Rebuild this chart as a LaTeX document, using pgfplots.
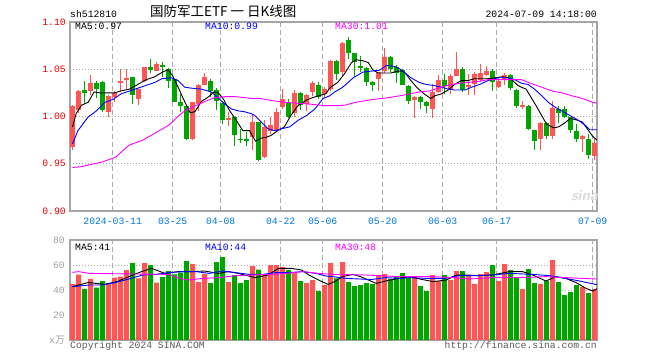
\documentclass[border=0pt]{standalone}
\usepackage{pgfplots}
\pgfplotsset{compat=1.18}
\usepackage{pgfplotstable}
\usepackage{fontspec}
\setmainfont{Liberation Mono}
\setmonofont{Liberation Mono}
\newfontfamily\cjk{Noto Sans CJK SC}
\newcommand\mono{\fontsize{9.75}{11}\selectfont\ttfamily}
\definecolor{cred}{RGB}{255,85,85}
\definecolor{cgreen}{RGB}{0,165,0}
\definecolor{framegray}{RGB}{165,165,165}
\definecolor{gridgray}{RGB}{170,170,170}
\definecolor{labred}{RGB}{230,0,0}
\definecolor{labblue}{RGB}{0,120,220}
\definecolor{txtgray}{RGB}{90,90,90}
\definecolor{volgray}{RGB}{160,160,160}
\definecolor{mablue}{RGB}{0,0,255}
\definecolor{mamag}{RGB}{255,0,255}

% rising candles (red): index, open, high, low, close, volume (10k)
\pgfplotstableread{
i o h l c v
0 0.968 1.012 0.965 1.0116 44.8
1 1.007 1.028 1.0035 1.0274 52.3
3 1.0267 1.0435 1.0232 1.0351 49.0
6 1.005 1.0225 1.000 1.0218 44.8
7 1.0211 1.0274 1.015 1.0253 49.9
8 1.0351 1.0502 1.0256 1.0379 50.7
9 1.039 1.050 1.029 1.041 56.0
11 1.019 1.0292 1.0127 1.0292 49.3
12 1.0372 1.0526 1.036 1.0526 61.6
14 1.0477 1.058 1.0477 1.0554 45.9
20 0.9766 1.0151 0.9755 1.0151 60.8
21 1.0134 1.034 1.0057 1.0337 46.4
22 1.0337 1.0456 1.0337 1.0421 53.0
26 0.9958 1.0046 0.9899 0.9983 46.4
30 0.9783 1.0029 0.965 0.9941 59.2
32 0.9573 0.9958 0.9562 0.9888 52.0
33 0.9843 1.000 0.982 0.9913 60.0
34 0.986 1.009 0.9843 1.0046 60.0
35 1.0099 1.0291 1.008 1.0186 58.4
37 1.0036 1.028 0.9993 1.0246 54.4
39 1.0134 1.024 1.0057 1.0232 45.6
40 1.0256 1.0372 1.022 1.0355 48.0
42 1.0239 1.031 1.020 1.0291 44.0
43 1.0291 1.060 1.0274 1.059 61.6
45 1.047 1.079 1.042 1.078 62.4
51 1.0397 1.047 1.0274 1.0467 52.0
52 1.0477 1.073 1.046 1.0632 52.8
57 1.0176 1.022 0.9986 1.0211 51.2
60 1.0078 1.0344 0.9986 1.0263 52.0
61 1.0263 1.0442 1.0253 1.0386 47.2
63 1.0281 1.045 1.024 1.0428 48.0
64 1.0432 1.0684 1.043 1.0505 55.2
66 1.0309 1.0449 1.0232 1.0334 52.0
67 1.0344 1.047 1.0232 1.0449 44.8
68 1.0386 1.0554 1.037 1.0456 52.8
69 1.0442 1.0537 1.043 1.0484 54.4
71 1.0309 1.0404 1.030 1.0379 47.2
72 1.0386 1.046 1.0337 1.0442 60.8
75 1.0099 1.0169 1.008 1.0127 40.8
78 0.9762 0.994 0.965 0.993 45.0
80 0.9797 1.0169 0.9762 1.0092 64.0
85 0.9766 0.980 0.9625 0.979 42.4
87 0.958 0.9766 0.9538 0.972 40.8
}\uptable

% falling candles (green)
\pgfplotstableread{
i o h l c v
2 1.0285 1.038 1.014 1.0253 41.0
4 1.0351 1.0372 1.0197 1.0295 41.9
5 1.0365 1.0372 1.0043 1.0064 47.2
10 1.042 1.042 1.0134 1.0232 61.6
13 1.0526 1.0607 1.0456 1.0495 60.0
15 1.054 1.058 1.0414 1.0526 50.4
16 1.0502 1.051 1.030 1.0379 55.2
17 1.0397 1.0397 1.015 1.0158 52.5
18 1.0158 1.024 1.0046 1.0106 53.9
19 1.0106 1.011 0.9748 0.9766 63.2
23 1.0372 1.040 1.0204 1.0274 45.6
24 1.028 1.030 1.0064 1.0162 62.4
25 1.0141 1.016 0.9923 0.9958 66.4
27 0.9993 1.000 0.9688 0.980 52.0
28 0.9762 0.9864 0.972 0.9752 45.6
29 0.9762 0.9836 0.9685 0.9748 48.0
31 0.9937 0.994 0.9527 0.9545 56.3
36 1.0151 1.018 0.998 1.000 56.0
38 1.0253 1.026 1.0064 1.0127 47.2
41 1.0337 1.036 1.019 1.0211 39.2
44 1.059 1.060 1.0386 1.0449 49.3
46 1.0807 1.0842 1.0607 1.0677 46.4
47 1.0667 1.067 1.042 1.0572 43.2
48 1.0537 1.0642 1.0467 1.0509 44.0
49 1.0509 1.052 1.0327 1.0362 45.6
50 1.0362 1.038 1.0267 1.0333 45.0
53 1.0632 1.064 1.0467 1.0502 48.8
54 1.052 1.054 1.0355 1.0456 50.4
55 1.0491 1.050 1.033 1.0337 53.6
56 1.0327 1.033 1.0134 1.0162 49.6
58 1.0211 1.022 1.0078 1.0151 43.2
59 1.0151 1.016 1.0036 1.0106 39.2
62 1.0386 1.045 1.0239 1.0327 52.0
65 1.0505 1.0526 1.0256 1.0281 55.2
70 1.0484 1.050 1.0274 1.0362 60.0
73 1.0442 1.045 1.028 1.0298 56.0
74 1.0281 1.029 1.0092 1.0106 49.6
76 1.0116 1.012 0.9853 0.987 56.8
77 0.9853 0.986 0.965 0.9741 45.6
79 0.993 0.994 0.9762 0.9797 47.2
81 1.0081 1.0106 0.993 1.0036 46.4
82 1.0081 1.0106 0.998 1.000 36.0
83 0.9993 1.000 0.9825 0.986 38.4
84 0.9843 0.9923 0.973 0.9766 44.0
86 0.9766 0.9818 0.9548 0.959 37.6
}\downtable

\pgfplotsset{kbase/.style={
  scale only axis, width=527pt,
  xmin=-0.4167, xmax=87.4167,
  axis line style={draw=framegray, line width=1.5pt},
  major tick length=0pt,
  tick style={draw=none},
  grid=major,
  x grid style={draw=gridgray, line width=1.2pt, dash pattern=on 5pt off 3pt},
  y grid style={draw=gridgray, line width=1pt, dash pattern=on 1pt off 2pt},
  xtick={6.7,16.7,24.7,34.7,41.7,51.7,61.7,70.7,86.7},
  tick label style={font=\mono, inner sep=0pt},
}}

\begin{document}
\begin{tikzpicture}[x=1pt,y=1pt]
\fill[white] (0,0) rectangle (660,360);

% ---------------- price panel ----------------
\begin{axis}[kbase, at={(70pt,149pt)}, anchor=south west, height=189pt,
  ymin=0.90, ymax=1.10,
  ytick={0.90,0.95,1.00,1.05,1.10},
  yticklabels={0.90,0.95,1.00,1.05,1.10},
  yticklabel style={text=labred, anchor=east, xshift=-4pt},
  xticklabels={2024-03-11,03-25,04-08,04-22,05-06,05-20,06-03,06-17,07-09},
  xticklabel style={text=labblue, anchor=base, yshift=-13.5pt},
]
% wicks
\addplot[draw=none, mark=none, forget plot,
  error bars/.cd, y dir=both, y explicit, error mark=none,
  error bar style={draw=cred, line width=1pt}]
  table[x=i, y expr={(\thisrow{h}+\thisrow{l})/2}, y error expr={(\thisrow{h}-\thisrow{l})/2}] \uptable;
\addplot[draw=none, mark=none, forget plot,
  error bars/.cd, y dir=both, y explicit, error mark=none,
  error bar style={draw=cgreen, line width=1pt}]
  table[x=i, y expr={(\thisrow{h}+\thisrow{l})/2}, y error expr={(\thisrow{h}-\thisrow{l})/2}] \downtable;
% bodies
\addplot[draw=none, mark=none, forget plot,
  error bars/.cd, y dir=both, y explicit, error mark=none,
  error bar style={draw=cred, line width=5pt}]
  table[x=i, y expr={(\thisrow{o}+\thisrow{c})/2}, y error expr={max(abs(\thisrow{c}-\thisrow{o})/2,0.0005)}] \uptable;
\addplot[draw=none, mark=none, forget plot,
  error bars/.cd, y dir=both, y explicit, error mark=none,
  error bar style={draw=cgreen, line width=5pt}]
  table[x=i, y expr={(\thisrow{o}+\thisrow{c})/2}, y error expr={max(abs(\thisrow{c}-\thisrow{o})/2,0.0005)}] \downtable;
% MA5
\addplot[black, line width=0.9pt, mark=none] coordinates {
(0,0.989) (0.6,1.003) (1.5,1.012) (2.6,1.015) (3.6,1.026) (4.5,1.025) (6,1.025) (7,1.025) (8,1.027) (9.5,1.029) (10.9,1.034) (12.3,1.039) (13.7,1.042) (15,1.047) (15.9,1.0495) (16.7,1.043) (17.6,1.031) (18.6,1.017) (19.6,1.004) (20.4,1.005) (21.5,1.016) (22.6,1.0205) (23.6,1.026) (24.3,1.025) (25.1,1.019) (26.2,1.006) (27.3,0.996) (28.4,0.985) (29.5,0.985) (30.5,0.974) (31.4,0.977) (32.3,0.978) (33.1,0.980) (34.2,0.985) (35.3,0.989) (36.4,1.001) (37.5,1.011) (38.9,1.017) (40,1.020) (41.1,1.022) (42.2,1.024) (43,1.031) (44.2,1.036) (45.3,1.045) (46.5,1.057) (47.3,1.060) (48.4,1.059) (49.3,1.057) (50.1,1.049) (51,1.046) (53,1.046) (54.2,1.048) (55,1.048) (55.6,1.045) (56.4,1.038) (57.5,1.030) (58.6,1.024) (59.7,1.019) (60.4,1.022) (61.5,1.024) (62.6,1.028) (63.7,1.034) (64.8,1.038) (65.9,1.038) (67,1.040) (69.2,1.040) (70.4,1.041) (71.5,1.042) (72.6,1.041) (73.4,1.038) (74.2,1.033) (74.8,1.031) (75.6,1.029) (76.4,1.0205) (77.3,1.011) (78.2,1.001) (79,0.992) (80.2,0.988) (81,0.989) (82,0.993) (83,0.998) (84.2,0.996) (85,0.994) (85.9,0.986) (86.7,0.979) (87.4,0.975)
};
% MA10
\addplot[mablue, line width=0.9pt, mark=none] coordinates {
(0,0.971) (0.9,0.985) (2.6,0.9995) (4,1.006) (5.4,1.015) (6.75,1.018) (8.1,1.024) (9.5,1.027) (10.9,1.030) (12.3,1.033) (13.7,1.036) (14.9,1.040) (16.5,1.041) (17.6,1.038) (18.7,1.031) (19.8,1.030) (21.5,1.029) (23.1,1.026) (24.25,1.020) (25.4,1.013) (26.5,1.008) (27.6,1.006) (28.7,1.005) (29.8,1.003) (30.4,1.001) (31.5,0.994) (32.6,0.987) (33.7,0.985) (34.8,0.987) (36.2,0.989) (37.6,0.996) (39,1.001) (40.4,1.008) (41.75,1.019) (42.9,1.022) (43.7,1.026) (44.8,1.030) (45.4,1.033) (46.8,1.041) (48.4,1.047) (49.8,1.048) (51.2,1.049) (52.3,1.054) (53.75,1.053) (54.9,1.049) (56.4,1.041) (57.8,1.036) (58.9,1.034) (60,1.033) (61.5,1.031) (62.6,1.029) (63.7,1.028) (65.4,1.028) (66.5,1.031) (67.9,1.034) (69.25,1.038) (70.9,1.041) (72.6,1.041) (73.7,1.039) (74.9,1.035) (75.9,1.034) (77,1.029) (78.2,1.022) (79.3,1.015) (80.4,1.010) (81.8,1.005) (83.2,1.000) (84.3,0.996) (85.4,0.991) (86.2,0.986) (87.4,0.986)
};
% MA30
\addplot[mamag, line width=0.9pt, mark=none] coordinates {
(0,0.946) (1.5,0.947) (5,0.952) (7.2,0.957) (9.4,0.9696) (11.7,0.975) (13.9,0.983) (16.1,0.991) (17.4,0.999) (18.7,1.006) (20.4,1.011) (22.1,1.016) (23.75,1.020) (25.4,1.021) (27.1,1.021) (28.7,1.020) (29.9,1.019) (31.4,1.019) (33.1,1.017) (35.3,1.015) (37.5,1.014) (39.75,1.013) (42,1.0115) (44.25,1.0115) (45.4,1.012) (47.2,1.015) (50,1.018) (52.75,1.020) (55.5,1.023) (57.8,1.026) (59.5,1.027) (60.9,1.030) (62.6,1.033) (64.25,1.035) (65.9,1.036) (67.6,1.037) (69.25,1.039) (70.9,1.039) (72.6,1.039) (74.8,1.039) (76.4,1.035) (78.2,1.031) (79.9,1.027) (81.6,1.025) (83.2,1.022) (85,1.019) (86.7,1.015) (87.4,1.014)
};
\end{axis}

% ---------------- volume panel ----------------
\begin{axis}[kbase, at={(70pt,20pt)}, anchor=south west, height=100pt,
  ymin=0, ymax=80,
  ytick={0,20,40,60,80},
  yticklabels={x{\cjk 万},20,40,60,80},
  yticklabel style={text=volgray, anchor=east, xshift=-5pt},
  xticklabels={},
]
\addplot[ybar, bar width=5pt, bar shift=0pt, fill=cred, draw=none, forget plot] table[x=i, y=v] \uptable;
\addplot[ybar, bar width=5pt, bar shift=0pt, fill=cgreen, draw=none, forget plot] table[x=i, y=v] \downtable;
% volume MA5
\addplot[black, line width=0.9pt, mark=none] coordinates {
(0,42.7) (2.6,46) (5.4,44.5) (7.6,47) (9.8,51.5) (11.5,54.7) (13.2,57.3) (15.4,53.3) (17.6,54.7) (19.9,54.7) (22,55.2) (24.3,53.3) (26,54.7) (27.6,53.3) (30.4,49.9) (32.6,52) (34.3,57.3) (36.5,57.3) (38.2,56) (39.4,52) (41,48) (42.6,44.5) (43.7,46.7) (45,50.7) (46.7,52.5) (48,50.7) (50.6,45.3) (52.2,47.2) (54.4,49.3) (56.2,50.7) (58.2,48.5) (60.1,46.7) (62.3,48) (64,52) (65.7,52) (67.8,51.5) (70,52) (72.8,54.7) (75,54.7) (76.7,52) (78.9,47.2) (80.6,50.7) (82.2,49.3) (83.9,46) (85.6,41.3) (86.7,39.2) (87.4,41)
};
% volume MA10
\addplot[mablue, line width=0.9pt, mark=none] coordinates {
(0,42.7) (2.8,44) (5,44) (7.2,46) (9.4,48.8) (11.7,52) (13.9,52.5) (16,53.9) (18.3,54.7) (20.6,54.7) (22.8,53.3) (25,55.2) (27.2,53.9) (29.4,52.5) (31.7,52.5) (33.9,53.9) (36.1,53.9) (38.3,54.7) (40.6,53.3) (42.2,51.2) (43.3,50.7) (45.6,49.3) (47.8,48.8) (50,48.5) (52.2,49.9) (54.4,49.3) (56.2,49.9) (59,49.3) (62,49.3) (64.4,51.5) (67.2,51.5) (70,52) (72.8,53.3) (76.7,52.5) (79.4,51.5) (82.2,49.3) (85,46.7) (87.4,44.3)
};
% volume MA30
\addplot[mamag, line width=0.9pt, mark=none] coordinates {
(0,54.1) (1,54.7) (2.8,53.3) (10.6,52.8) (16,52.5) (17.8,49.3) (19.4,48) (21.7,49.3) (24.5,49.9) (27.2,51.5) (30,52) (32.8,52.5) (35.6,53.3) (38.3,54.7) (41.1,53.3) (43.3,52.5) (48.9,52) (54.4,50.7) (60,50.7) (63.3,49.9) (66.2,48.8) (70,49.9) (76,50.1) (78.9,50.7) (82.2,49.9) (85,49.3) (87.4,48.8)
};
\end{axis}

% ---------------- texts ----------------
\node[anchor=base west, inner sep=0pt, font=\mono] at (70,343) {sh512810};
\node[anchor=base west, inner sep=0pt, font=\cjk\fontsize{13.5}{15}\selectfont] at (150,343.5) {国防军工ETF 一 日K线图};
\node[anchor=base east, inner sep=0pt, font=\mono] at (597,343) {2024-07-09 14:18:00};
\node[anchor=base west, inner sep=0pt, font=\mono] at (75,330.5) {MA5:0.97};
\node[anchor=base west, inner sep=0pt, font=\mono, text=mablue] at (205,330.5) {MA10:0.99};
\node[anchor=base west, inner sep=0pt, font=\mono, text=mamag] at (335,330.5) {MA30:1.01};
\node[anchor=base west, inner sep=0pt, font=\mono] at (75,109.5) {MA5:41};
\node[anchor=base west, inner sep=0pt, font=\mono, text=mablue] at (205,109.5) {MA10:44};
\node[anchor=base west, inner sep=0pt, font=\mono, text=mamag] at (335,109.5) {MA30:48};
\node[anchor=base west, inner sep=0pt, font=\mono, text=txtgray] at (70,11.5) {Copyright 2024 SINA.COM};
\node[anchor=base east, inner sep=0pt, font=\mono, text=txtgray] at (597,11.5) {http://finance.sina.com.cn};
\node[anchor=east, inner sep=0pt, font=\sffamily\bfseries\itshape\fontsize{15}{16}\selectfont, text=gray!30] at (598,164) {sina};
\pgfresetboundingbox
\useasboundingbox (0,0) rectangle (660,360);
\end{tikzpicture}
\end{document}
